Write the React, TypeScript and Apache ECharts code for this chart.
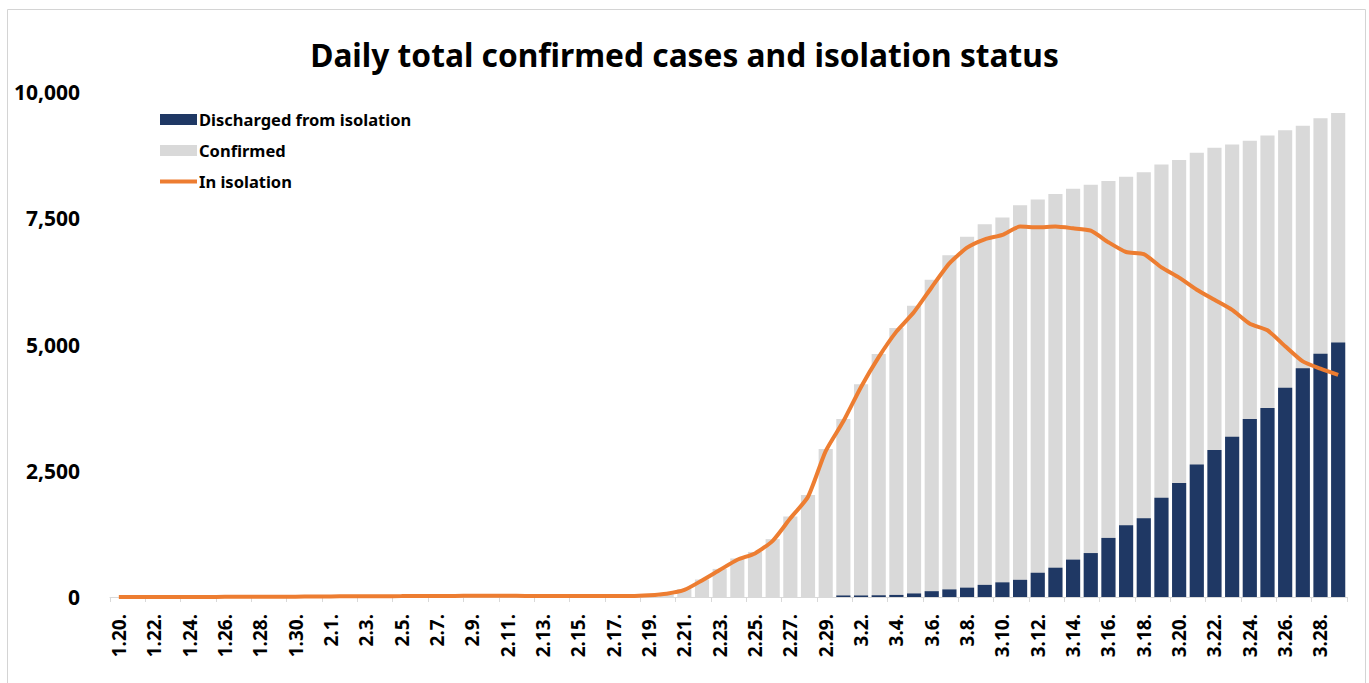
import React, { useEffect, useRef } from "react";
import * as echarts from "echarts";

const dates = [
  "1.20.", "1.21.", "1.22.", "1.23.", "1.24.", "1.25.", "1.26.", "1.27.", "1.28.", "1.29.", "1.30.", "1.31.",
  "2.1.", "2.2.", "2.3.", "2.4.", "2.5.", "2.6.", "2.7.", "2.8.", "2.9.", "2.10.", "2.11.", "2.12.", "2.13.", "2.14.",
  "2.15.", "2.16.", "2.17.", "2.18.", "2.19.", "2.20.", "2.21.", "2.22.", "2.23.", "2.24.", "2.25.", "2.26.", "2.27.",
  "2.28.", "2.29.",
  "3.1.", "3.2.", "3.3.", "3.4.", "3.5.", "3.6.", "3.7.", "3.8.", "3.9.", "3.10.", "3.11.", "3.12.", "3.13.", "3.14.",
  "3.15.", "3.16.", "3.17.", "3.18.", "3.19.", "3.20.", "3.21.", "3.22.", "3.23.", "3.24.", "3.25.", "3.26.", "3.27.",
  "3.28.", "3.29.",
];

const confirmed = [
  1, 1, 1, 1, 2, 2, 3, 4, 4, 4, 6, 11,
  12, 15, 15, 16, 19, 23, 24, 24, 27, 27, 28, 28, 28, 28,
  28, 29, 30, 31, 46, 82, 156, 346, 556, 763, 893, 1146, 1595,
  2022, 2931,
  3526, 4212, 4812, 5328, 5766, 6284, 6767, 7134, 7382, 7513, 7755, 7869, 7979, 8086,
  8162, 8236, 8320, 8413, 8565, 8652, 8799, 8897, 8961, 9037, 9137, 9241, 9332,
  9478, 9583,
];

const discharged = [
  0, 0, 0, 0, 0, 0, 0, 0, 0, 0, 0, 0,
  0, 0, 0, 0, 0, 0, 0, 0, 0, 0, 0, 0, 0, 0,
  0, 0, 0, 0, 0, 0, 0, 0, 0, 0, 0, 0, 0,
  0, 0,
  30, 30, 34, 41, 70, 115, 150, 185, 240, 290, 340, 480, 580, 740,
  870, 1170, 1420, 1560, 1965, 2255, 2625, 2910, 3175, 3525, 3745, 4144, 4528,
  4815, 5040,
];

const inIsolation = [
  1, 1, 1, 1, 2, 2, 3, 4, 4, 4, 6, 11,
  12, 15, 15, 16, 18, 22, 22, 22, 24, 24, 24, 21, 21, 21,
  19, 20, 20, 19, 34, 65, 139, 328, 534, 738, 863, 1113, 1559,
  1985, 2888,
  3479, 4159, 4750, 5255, 5643, 6134, 6605, 6918, 7084, 7171, 7335, 7323, 7335, 7300,
  7253, 7024, 6832, 6789, 6527, 6325, 6085, 5884, 5684, 5410, 5281, 4966, 4665,
  4523, 4398,
];

const yTicks = [0, 2500, 5000, 7500, 10000];

const FONT = "'Noto Sans', 'DejaVu Sans', sans-serif";

export default function App() {
  const ref = useRef<HTMLDivElement>(null);

  useEffect(() => {
    if (!ref.current) return;
    const chart = echarts.init(ref.current, undefined, { renderer: "svg" });
    chart.setOption({
      animation: false,
      backgroundColor: "#ffffff",
      textStyle: { fontFamily: FONT },
      title: {
        text: "Daily total confirmed cases and isolation status",
        left: "center",
        top: 33,
        textStyle: { fontFamily: FONT, fontSize: 31.7, fontWeight: "bold", color: "#000000" },
      },
      graphic: [
        {
          type: "rect",
          shape: { x: 7.5, y: 9.5, width: 1358, height: 700 },
          style: { fill: "none", stroke: "#d4d4d4", lineWidth: 1 },
          silent: true,
        },
      ],
      legend: {
        orient: "vertical",
        left: 153,
        top: 106,
        padding: 5,
        itemWidth: 37,
        itemHeight: 11,
        itemGap: 14,
        data: [
          { name: "Discharged from isolation", icon: "rect" },
          { name: "Confirmed", icon: "rect" },
          {
            name: "In isolation",
            itemStyle: { color: "rgba(0,0,0,0)", borderWidth: 0, opacity: 0 },
            lineStyle: { width: 4, color: "#ed7d31" },
          },
        ],
        textStyle: {
          fontFamily: FONT,
          fontSize: 16.5,
          fontWeight: "bold",
          color: "#000000",
          padding: [0, 0, 0, -3],
        },
      },
      grid: { left: 110, right: 22, top: 92, bottom: 86, containLabel: false },
      xAxis: {
        type: "category",
        data: dates,
        boundaryGap: true,
        axisLine: { lineStyle: { color: "#d9d9d9", width: 1 } },
        axisTick: { show: true, interval: 1, length: 5, lineStyle: { color: "#d9d9d9" } },
        axisLabel: {
          interval: 1,
          rotate: 90,
          margin: 17,
          fontFamily: FONT,
          fontSize: 19,
          fontWeight: "bold",
          color: "#000000",
        },
      },
      yAxis: {
        type: "value",
        min: yTicks[0],
        max: yTicks[yTicks.length - 1],
        interval: 2500,
        splitLine: { show: false },
        axisLine: { show: false },
        axisTick: { show: false },
        axisLabel: {
          margin: 30,
          fontFamily: FONT,
          fontSize: 21,
          fontWeight: "bold",
          color: "#000000",
          formatter: (v: number) => v.toLocaleString("en-US"),
        },
      },
      series: [
        {
          name: "Confirmed",
          type: "bar",
          data: confirmed,
          barCategoryGap: "20%",
          barGap: "-100%",
          itemStyle: { color: "#d9d9d9" },
          z: 1,
        },
        {
          name: "Discharged from isolation",
          type: "bar",
          data: discharged,
          barCategoryGap: "20%",
          barGap: "-100%",
          itemStyle: { color: "#1f3864" },
          z: 2,
        },
        {
          name: "In isolation",
          type: "line",
          data: inIsolation,
          symbol: "none",
          smooth: 0.2,
          lineStyle: { color: "#ed7d31", width: 4 },
          itemStyle: { color: "#ed7d31" },
          z: 3,
        },
      ],
    });
    return () => chart.dispose();
  }, []);

  return (
    <div
      ref={ref}
      style={{ position: "absolute", left: 0, top: 0, width: 1369, height: 683, background: "#fff" }}
    />
  );
}
